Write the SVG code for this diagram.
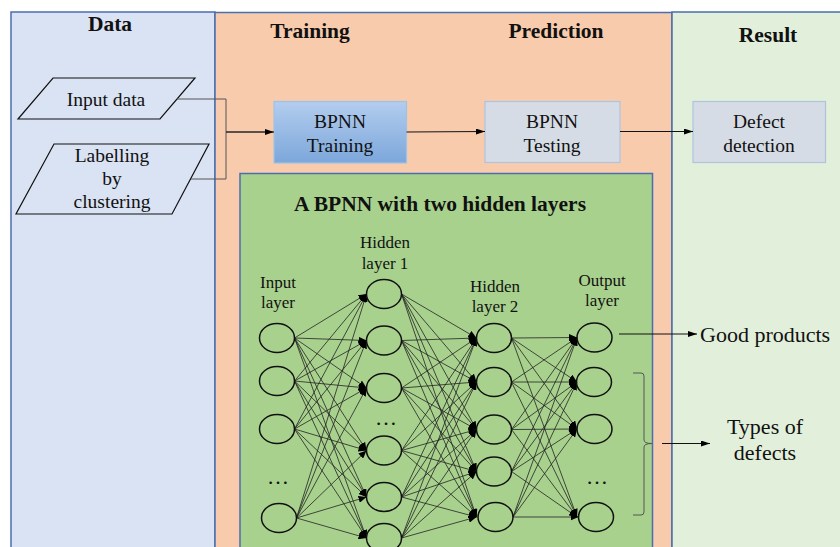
<svg xmlns="http://www.w3.org/2000/svg" width="840" height="547" viewBox="0 0 840 547">
<defs>
<style>
.t{font-family:"Liberation Serif","Times New Roman",serif;fill:#111}
.h{font-weight:bold;font-size:21.5px;text-anchor:middle}
.m{font-size:19.5px;text-anchor:middle}
.s{font-size:17px;text-anchor:middle}
.r{font-size:22px}
.panel{stroke:#4a6fb0;stroke-width:1.5}
.pg{fill:none;stroke:#111;stroke-width:1.2}
.nn{fill:none;stroke:#111;stroke-width:1.5}
.w{stroke:#222;stroke-width:0.8;marker-end:url(#nh)}
.c{fill:none;stroke:#555;stroke-width:1}
.a{fill:none;stroke:#111;stroke-width:1;marker-end:url(#ah)}
</style>
<marker id="ah" markerWidth="9" markerHeight="6" refX="9" refY="3" orient="auto" markerUnits="userSpaceOnUse"><path d="M0,0 L9,3 L0,6 z" fill="#000"/></marker>
<marker id="nh" markerWidth="8" markerHeight="7" refX="8" refY="3.5" orient="auto" markerUnits="userSpaceOnUse"><path d="M0,0 L8,3.5 L0,7 z" fill="#000"/></marker>
<linearGradient id="bg" x1="0" y1="0" x2="0" y2="1"><stop offset="0" stop-color="#b3cdee"/><stop offset="1" stop-color="#7ca7db"/></linearGradient>
</defs>
<rect width="840" height="547" fill="#fff"/>
<g id="panel-data"><rect class="panel" x="11" y="12" width="204" height="560" fill="#dae3f3"/><text class="t h" x="110" y="31">Data</text></g>
<g id="panel-train"><rect class="panel" x="215" y="12.5" width="457" height="560" fill="#f8cbad"/><text class="t h" x="310" y="38">Training</text><text class="t h" x="556" y="38">Prediction</text></g>
<g id="panel-result"><rect class="panel" x="672" y="12" width="180" height="560" fill="#e2efda"/><text class="t h" x="768" y="42">Result</text></g>
<g id="nn-box"><rect x="240" y="173.5" width="412.5" height="400" fill="#a9d18e" stroke="#4a6fb0" stroke-width="1.5"/><text class="t h" x="440" y="211">A BPNN with two hidden layers</text></g>
<g id="input-data"><polygon class="pg" points="53,78 195,78 160,119 18,119" fill="#dae3f3"/><text class="t m" x="106" y="106">Input data</text></g>
<g id="labelling"><polygon class="pg" points="54,144 209,144 172,214 16,214" fill="#dae3f3"/><text class="t m" x="112" y="162">Labelling</text><text class="t m" x="112" y="185">by</text><text class="t m" x="112" y="208">clustering</text></g>
<g id="bpnn-training"><rect x="274" y="101.5" width="132.5" height="61.5" fill="url(#bg)" stroke="#9dc3e6" stroke-width="1.2"/><text class="t m" x="340" y="128">BPNN</text><text class="t m" x="340" y="152">Training</text></g>
<g id="bpnn-testing"><rect x="485" y="101.5" width="135" height="61" fill="#d6dce5" stroke="#adc3de" stroke-width="1.2"/><text class="t m" x="552" y="128">BPNN</text><text class="t m" x="552" y="152">Testing</text></g>
<g id="defect-detection"><rect x="693" y="101.5" width="132.5" height="61" fill="#d6dce5" stroke="#adc3de" stroke-width="1.2"/><text class="t m" x="759" y="128">Defect</text><text class="t m" x="759" y="152">detection</text></g>
<g id="labels">
<text class="t s" x="278" y="288">Input</text><text class="t s" x="278" y="308">layer</text>
<text class="t s" x="385" y="248">Hidden</text><text class="t s" x="385" y="269">layer 1</text>
<text class="t s" x="495" y="292">Hidden</text><text class="t s" x="495" y="312">layer 2</text>
<text class="t s" x="602" y="286">Output</text><text class="t s" x="602" y="306">layer</text>
<text class="t s" x="278" y="484" style="font-size:22px">…</text>
<text class="t s" x="386" y="425" style="font-size:22px">…</text>
<text class="t s" x="597" y="484" style="font-size:22px">…</text>
<text class="t r" x="700" y="342">Good products</text>
<text class="t r" x="765" y="434" text-anchor="middle">Types of</text>
<text class="t r" x="765" y="460" text-anchor="middle">defects</text>
</g>
<g id="connectors">
<path class="c" d="M177,99 H226 V179 H191"/>
<path class="c" d="M226,132 H265"/>
<path class="a" d="M226,132 H274"/>
<path class="a" d="M406.5,132 L485,131.5"/>
<path class="a" d="M620,131.5 H693"/>
<path class="a" d="M619,334 H697"/>
<path class="c" d="M633,373 H641 Q644,373 644,376 V440 Q644,443.5 652,443.5 Q644,443.5 644,447 V512 Q644,515 641,515 H633"/>
<path class="a" d="M662,443.5 H710"/>
<line class="w" x1="294.5" y1="338" x2="366.5" y2="294"/><line class="w" x1="294.5" y1="338" x2="366.5" y2="340.5"/><line class="w" x1="294.5" y1="338" x2="366.5" y2="388"/><line class="w" x1="294.5" y1="338" x2="366.5" y2="450.5"/><line class="w" x1="294.5" y1="338" x2="366.5" y2="497"/><line class="w" x1="294.5" y1="338" x2="366.5" y2="538"/>
<line class="w" x1="294.5" y1="381" x2="366.5" y2="294"/><line class="w" x1="294.5" y1="381" x2="366.5" y2="340.5"/><line class="w" x1="294.5" y1="381" x2="366.5" y2="388"/><line class="w" x1="294.5" y1="381" x2="366.5" y2="450.5"/><line class="w" x1="294.5" y1="381" x2="366.5" y2="497"/><line class="w" x1="294.5" y1="381" x2="366.5" y2="538"/>
<line class="w" x1="294.5" y1="429" x2="366.5" y2="294"/><line class="w" x1="294.5" y1="429" x2="366.5" y2="340.5"/><line class="w" x1="294.5" y1="429" x2="366.5" y2="388"/><line class="w" x1="294.5" y1="429" x2="366.5" y2="450.5"/><line class="w" x1="294.5" y1="429" x2="366.5" y2="497"/><line class="w" x1="294.5" y1="429" x2="366.5" y2="538"/>
<line class="w" x1="296.5" y1="518" x2="366.5" y2="294"/><line class="w" x1="296.5" y1="518" x2="366.5" y2="340.5"/><line class="w" x1="296.5" y1="518" x2="366.5" y2="388"/><line class="w" x1="296.5" y1="518" x2="366.5" y2="450.5"/><line class="w" x1="296.5" y1="518" x2="366.5" y2="497"/><line class="w" x1="296.5" y1="518" x2="366.5" y2="538"/>
<line class="w" x1="401.5" y1="294" x2="476.5" y2="338"/><line class="w" x1="401.5" y1="294" x2="476.5" y2="382"/><line class="w" x1="401.5" y1="294" x2="476.5" y2="429.5"/><line class="w" x1="401.5" y1="294" x2="476.5" y2="471.5"/><line class="w" x1="401.5" y1="294" x2="476.5" y2="517"/>
<line class="w" x1="401.5" y1="340.5" x2="476.5" y2="338"/><line class="w" x1="401.5" y1="340.5" x2="476.5" y2="382"/><line class="w" x1="401.5" y1="340.5" x2="476.5" y2="429.5"/><line class="w" x1="401.5" y1="340.5" x2="476.5" y2="471.5"/><line class="w" x1="401.5" y1="340.5" x2="476.5" y2="517"/>
<line class="w" x1="401.5" y1="388" x2="476.5" y2="338"/><line class="w" x1="401.5" y1="388" x2="476.5" y2="382"/><line class="w" x1="401.5" y1="388" x2="476.5" y2="429.5"/><line class="w" x1="401.5" y1="388" x2="476.5" y2="471.5"/><line class="w" x1="401.5" y1="388" x2="476.5" y2="517"/>
<line class="w" x1="401.5" y1="450.5" x2="476.5" y2="338"/><line class="w" x1="401.5" y1="450.5" x2="476.5" y2="382"/><line class="w" x1="401.5" y1="450.5" x2="476.5" y2="429.5"/><line class="w" x1="401.5" y1="450.5" x2="476.5" y2="471.5"/><line class="w" x1="401.5" y1="450.5" x2="476.5" y2="517"/>
<line class="w" x1="401.5" y1="497" x2="476.5" y2="338"/><line class="w" x1="401.5" y1="497" x2="476.5" y2="382"/><line class="w" x1="401.5" y1="497" x2="476.5" y2="429.5"/><line class="w" x1="401.5" y1="497" x2="476.5" y2="471.5"/><line class="w" x1="401.5" y1="497" x2="476.5" y2="517"/>
<line class="w" x1="401.5" y1="538" x2="476.5" y2="338"/><line class="w" x1="401.5" y1="538" x2="476.5" y2="382"/><line class="w" x1="401.5" y1="538" x2="476.5" y2="429.5"/><line class="w" x1="401.5" y1="538" x2="476.5" y2="471.5"/><line class="w" x1="401.5" y1="538" x2="476.5" y2="517"/>
<line class="w" x1="511.5" y1="338" x2="577" y2="337.5"/><line class="w" x1="511.5" y1="338" x2="577" y2="382"/><line class="w" x1="511.5" y1="338" x2="577" y2="429"/><line class="w" x1="511.5" y1="338" x2="577" y2="517"/>
<line class="w" x1="511.5" y1="382" x2="577" y2="337.5"/><line class="w" x1="511.5" y1="382" x2="577" y2="382"/><line class="w" x1="511.5" y1="382" x2="577" y2="429"/><line class="w" x1="511.5" y1="382" x2="577" y2="517"/>
<line class="w" x1="511.5" y1="429.5" x2="577" y2="337.5"/><line class="w" x1="511.5" y1="429.5" x2="577" y2="382"/><line class="w" x1="511.5" y1="429.5" x2="577" y2="429"/><line class="w" x1="511.5" y1="429.5" x2="577" y2="517"/>
<line class="w" x1="511.5" y1="471.5" x2="577" y2="337.5"/><line class="w" x1="511.5" y1="471.5" x2="577" y2="382"/><line class="w" x1="511.5" y1="471.5" x2="577" y2="429"/><line class="w" x1="511.5" y1="471.5" x2="577" y2="517"/>
<line class="w" x1="513" y1="517" x2="577" y2="337.5"/><line class="w" x1="513" y1="517" x2="577" y2="382"/><line class="w" x1="513" y1="517" x2="577" y2="429"/><line class="w" x1="513" y1="517" x2="578.5" y2="517"/>
</g>
<g id="input-layer">
<ellipse id="in1" class="nn" cx="277" cy="338" rx="17.5" ry="14.5"/><ellipse id="in2" class="nn" cx="277" cy="381" rx="17.5" ry="14.5"/><ellipse id="in3" class="nn" cx="277" cy="429" rx="17.5" ry="14.5"/><ellipse id="in4" class="nn" cx="279" cy="518" rx="17.5" ry="14.5"/>
</g>
<g id="hidden-layer-1">
<ellipse id="h1a" class="nn" cx="384" cy="294" rx="17.5" ry="14.5"/><ellipse id="h1b" class="nn" cx="384" cy="340.5" rx="17.5" ry="14.5"/><ellipse id="h1c" class="nn" cx="384" cy="388" rx="17.5" ry="14.5"/><ellipse id="h1d" class="nn" cx="384" cy="450.5" rx="17.5" ry="14.5"/><ellipse id="h1e" class="nn" cx="384" cy="497" rx="17.5" ry="14.5"/><ellipse id="h1f" class="nn" cx="384" cy="538" rx="17.5" ry="14.5"/>
</g>
<g id="hidden-layer-2">
<ellipse id="h2a" class="nn" cx="494" cy="338" rx="17.5" ry="14.5"/><ellipse id="h2b" class="nn" cx="494" cy="382" rx="17.5" ry="14.5"/><ellipse id="h2c" class="nn" cx="494" cy="429.5" rx="17.5" ry="14.5"/><ellipse id="h2d" class="nn" cx="494" cy="471.5" rx="17.5" ry="14.5"/><ellipse id="h2e" class="nn" cx="495.5" cy="517" rx="17.5" ry="14.5"/>
</g>
<g id="output-layer">
<ellipse id="o1" class="nn" cx="594.5" cy="337.5" rx="17.5" ry="14.5"/><ellipse id="o2" class="nn" cx="594" cy="382" rx="17.5" ry="14.5"/><ellipse id="o3" class="nn" cx="594.5" cy="429" rx="17.5" ry="14.5"/><ellipse id="o4" class="nn" cx="596" cy="517" rx="17.5" ry="14.5"/>
</g>
</svg>
